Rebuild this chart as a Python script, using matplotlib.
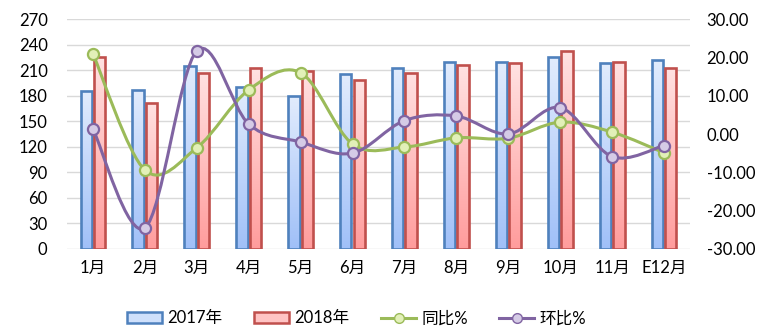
import numpy as np
import matplotlib
matplotlib.use("Agg")
import matplotlib.pyplot as plt
from matplotlib.path import Path
from matplotlib.patches import PathPatch, Rectangle
from matplotlib.lines import Line2D
from matplotlib.colors import LinearSegmentedColormap

plt.rcParams['font.family'] = ['Lato', 'Noto Sans CJK SC', 'DejaVu Sans']

# 数据
months = ['1月', '2月', '3月', '4月', '5月', '6月', '7月', '8月', '9月', '10月', '11月', 'E12月']
sales_2017 = [186, 187, 215, 190, 180, 205, 213, 219, 219, 225, 218, 222]
sales_2018 = [226, 171, 207, 213, 209, 199, 207, 216, 218, 233, 219, 213]
yoy = [20.9, -9.4, -3.6, 11.5, 16.0, -2.6, -3.4, -1.0, -1.1, 3.1, 0.5, -4.9]
mom = [1.3, -24.5, 21.7, 2.6, -2.1, -5.0, 3.5, 4.7, 0.0, 6.9, -5.9, -3.0]

fs = 12

fig = plt.figure(figsize=(7.84, 3.34), dpi=100)
ax = fig.add_axes([0.0855, 0.2545, 0.7945, 0.6885])
ax2 = ax.twinx()

x = np.arange(len(months))
bw = 0.22
gap = 0.04

blue_cmap = LinearSegmentedColormap.from_list('b', ['#a0c0f8', '#e2ecfd'])
red_cmap = LinearSegmentedColormap.from_list('r', ['#ff9c9c', '#ffe2e2'])
grad = np.linspace(0, 1, 256).reshape(-1, 1)


def gradient_bars(xs, heights, cmap, edge):
    for xi, h in zip(xs, heights):
        rect = Rectangle((xi - bw / 2, 0), bw, h, facecolor='none',
                         edgecolor=edge, linewidth=1.9, zorder=3)
        ax.add_patch(rect)
        im = ax.imshow(grad, cmap=cmap, origin='lower', aspect='auto',
                       extent=[xi - bw / 2, xi + bw / 2, 0, h], zorder=2)
        im.set_clip_path(rect)


gradient_bars(x - bw / 2 - gap / 2, sales_2017, blue_cmap, '#4f81bd')
gradient_bars(x + bw / 2 + gap / 2, sales_2018, red_cmap, '#c0504d')

ax.set_xlim(-0.5, len(months) - 0.5)
ax.set_ylim(0, 270)
ax.set_yticks(range(0, 271, 30))
ax.yaxis.grid(True, color='#d9d9d9', linewidth=1.0, zorder=0)
ax.set_axisbelow(True)
ax.set_xticks(x)
ax.set_xticklabels(months)
ax.tick_params(axis='both', length=0, labelsize=fs, colors='#000000')
ax.tick_params(axis='y', pad=14)
ax.tick_params(axis='x', pad=8)
for s in ax.spines.values():
    s.set_visible(False)
for s in ax2.spines.values():
    s.set_visible(False)

ax2.set_ylim(-30, 30)
ax2.set_yticks(range(-30, 31, 10))
ax2.set_yticklabels([f'{v:.2f}' for v in range(-30, 31, 10)])
ax2.tick_params(axis='y', length=0, labelsize=fs, pad=12)


def smooth_line(vals, color, face, z):
    pts = np.column_stack([x, vals]).astype(float)
    ext = np.vstack([pts[0], pts, pts[-1]])
    verts = [pts[0]]
    codes = [Path.MOVETO]
    for i in range(len(pts) - 1):
        p0, p1, p2, p3 = ext[i], ext[i + 1], ext[i + 2], ext[i + 3]
        c1 = p1 + (p2 - p0) / 6
        c2 = p2 - (p3 - p1) / 6
        verts += [c1, c2, p2]
        codes += [Path.CURVE4] * 3
    ax2.add_patch(PathPatch(Path(verts, codes), facecolor='none',
                            edgecolor=color, linewidth=2.2, zorder=z))
    ax2.plot(x, vals, linestyle='none', marker='o', markersize=8,
             markerfacecolor=face, markeredgecolor=color,
             markeredgewidth=1.6, zorder=z + 0.5)


smooth_line(yoy, '#9bbb59', '#e2f0b8', 4)
smooth_line(mom, '#8064a2', '#d5cbe6', 5)

handles = [
    Rectangle((0, 0), 1, 1, facecolor='#cfe0fb', edgecolor='#4f81bd', linewidth=1.8),
    Rectangle((0, 0), 1, 1, facecolor='#ffc4c4', edgecolor='#c0504d', linewidth=1.8),
    Line2D([], [], color='#9bbb59', linewidth=2.2, marker='o', markersize=7,
           markerfacecolor='#e2f0b8', markeredgecolor='#9bbb59'),
    Line2D([], [], color='#8064a2', linewidth=2.2, marker='o', markersize=7,
           markerfacecolor='#d5cbe6', markeredgecolor='#8064a2'),
]
fig.legend(handles, ['2017年', '2018年', '同比%', '环比%'], ncol=4,
           loc='center', bbox_to_anchor=(0.455, 0.047), frameon=False,
           fontsize=fs, handlelength=2.1, handleheight=0.65,
           handletextpad=0.3, columnspacing=1.9)

fig.savefig('out.png', dpi=100)
